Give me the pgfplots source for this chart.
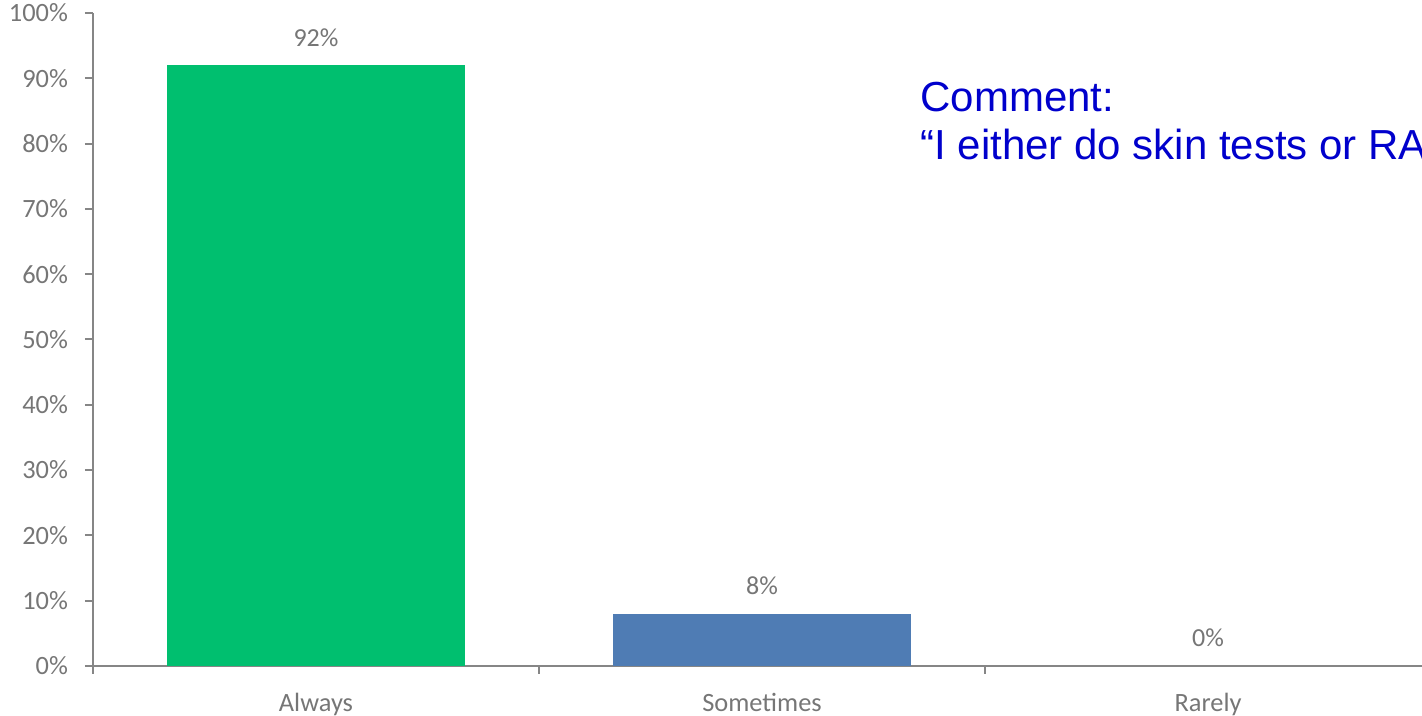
\documentclass[border=0pt]{standalone}
\usepackage{pgfplots}
\pgfplotsset{compat=1.18}
\usepackage{fontspec}
\setmainfont{Carlito}
\newfontfamily\arialfont{Liberation Sans}
\definecolor{axgray}{RGB}{134,134,134}
\definecolor{txtgray}{RGB}{118,118,118}
\definecolor{barGreen}{RGB}{0,191,111}
\definecolor{barBlue}{RGB}{79,124,180}
\definecolor{cmtBlue}{RGB}{0,0,204}
\begin{document}
\begin{tikzpicture}
\path[use as bounding box] (-46.5pt,-25pt) rectangle (664.5pt,333pt);
\clip (-46.5pt,-25pt) rectangle (664.5pt,333pt);
\begin{axis}[
  at={(0pt,0pt)}, anchor=south west,
  scale only axis, width=669pt, height=326.5pt,
  xmin=-0.5, xmax=2.5, ymin=0, ymax=100,
  axis x line=bottom, axis y line=left,
  axis line style={axgray, line width=1pt, -},
  ytick={0,10,...,100},
  yticklabel={\pgfmathprintnumber{\tick}\%},
  /pgf/number format/assume math mode=true,
  xtick={-0.5,0.5,1.5,2.5},
  x tick label as interval,
  xticklabels={Always,Sometimes,Rarely},
  tick align=outside,
  major tick length=4pt,
  tick style={axgray, line width=1pt},
  ticklabel style={font=\fontsize{13.2}{15}\selectfont, text=txtgray},
  yticklabel style={xshift=-5pt},
  xticklabel style={yshift=-6pt},
  ybar, bar width=149pt,
  nodes near coords={\pgfmathprintnumber{\pgfplotspointmeta}\%},
  nodes near coords style={anchor=base, yshift=9.5pt, inner sep=0pt, font=\fontsize{13}{15}\selectfont, text=txtgray},
  point meta=y,
  clip=false,
]
\addplot[bar shift=0pt, fill=barGreen, draw=none] coordinates {(0,92)};
\addplot[bar shift=0pt, fill=barBlue, draw=none] coordinates {(1,8)};
\addplot[bar shift=0pt, fill=none, draw=none] coordinates {(2,0)};
\end{axis}
\node[anchor=base west, inner sep=0pt, font=\arialfont\fontsize{21}{25}\selectfont, text=cmtBlue] at (413.5pt,277pt) {Comment:};
\node[anchor=base west, inner sep=0pt, font=\arialfont\fontsize{21}{25}\selectfont, text=cmtBlue] at (413.5pt,253pt) {“I either do skin tests or RAST results”};
\end{tikzpicture}
\end{document}
